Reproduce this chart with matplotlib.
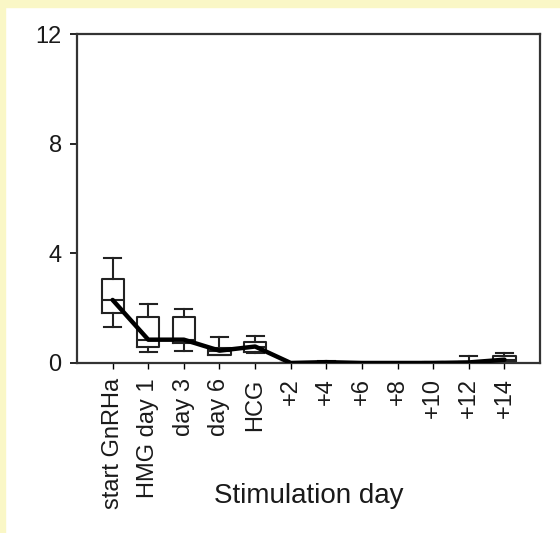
import matplotlib.pyplot as plt
from matplotlib.patches import Rectangle

plt.rcParams['font.family'] = ['Liberation Sans', 'DejaVu Sans']

# stimulation days and box statistics
days = ['start GnRHa', 'HMG day 1', 'day 3', 'day 6', 'HCG', '+2', '+4',
        '+6', '+8', '+10', '+12', '+14']
whis_lo = [1.31, 0.40, 0.44, 0.30, 0.35, 0.0, 0.0, 0.0, 0.0, 0.0, 0.0, 0.0]
q1 = [1.82, 0.58, 0.73, 0.29, 0.40, 0.0, 0.0, 0.0, 0.0, 0.0, 0.0, 0.05]
medians = [2.30, 0.85, 0.85, 0.45, 0.60, 0.0, 0.03, 0.0, 0.0, 0.0, 0.02, 0.12]
q3 = [3.07, 1.68, 1.68, 0.55, 0.77, 0.0, 0.05, 0.0, 0.0, 0.02, 0.05, 0.25]
whis_hi = [3.83, 2.15, 1.97, 0.95, 0.99, 0.0, 0.07, 0.0, 0.0, 0.03, 0.25, 0.37]
y_ticks = [0, 4, 8, 12]

fig = plt.figure(figsize=(5.6, 5.33), dpi=100)
# pale yellow frame at top and left, like the scanned page
fig.patches.append(Rectangle((0, 1 - 7 / 533), 1, 7 / 533, transform=fig.transFigure,
                             color='#faf7c6', zorder=0))
fig.patches.append(Rectangle((0, 0), 5 / 560, 1, transform=fig.transFigure,
                             color='#faf7c6', zorder=0))

ax = fig.add_axes([0.1375, 0.319, 0.827, 0.617])

stats = []
for i in range(len(days)):
    stats.append(dict(whislo=whis_lo[i], q1=q1[i], med=medians[i],
                      q3=q3[i], whishi=whis_hi[i], fliers=[]))

pos = list(range(len(days)))
ax.bxp(stats, positions=pos, widths=0.62, capwidths=0.48, showfliers=False,
       boxprops=dict(color='#222222', linewidth=1.5),
       whiskerprops=dict(color='#222222', linewidth=1.5),
       capprops=dict(color='#222222', linewidth=1.5),
       medianprops=dict(color='#222222', linewidth=1.5))

# median trend line
ax.plot(pos, medians, color='black', linewidth=3.2, solid_joinstyle='round',
        solid_capstyle='round', zorder=5)

ax.set_xlim(-1, 12)
ax.set_ylim(0, 12)
ax.set_yticks(y_ticks)
ax.set_xticks(pos)
ax.set_xticklabels(days, rotation=90, fontsize=17, color='#1a1a1a')
ax.tick_params(axis='y', labelsize=17, labelcolor='#1a1a1a', length=5,
               width=1.2, pad=6)
ax.tick_params(axis='x', length=4, width=1.0, pad=7)
for s in ax.spines.values():
    s.set_linewidth(1.6)
    s.set_color('#333333')

ax.set_xlabel('Stimulation day', fontsize=20, color='#1a1a1a')
ax.xaxis.set_label_coords(0.5, (363 - 496) / 329)
ax.xaxis.label.set_va('center')

fig.savefig('out.png', dpi=100)
